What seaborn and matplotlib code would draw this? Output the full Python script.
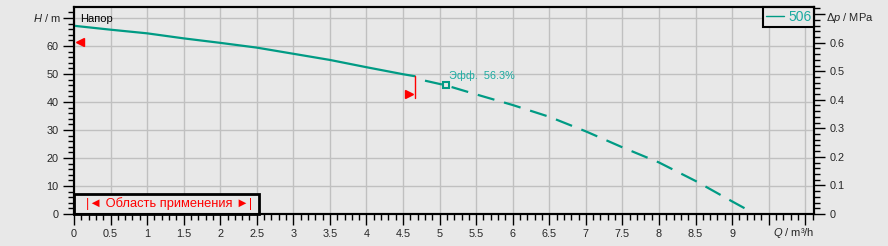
import matplotlib
matplotlib.use("Agg")
import matplotlib.pyplot as plt
import seaborn as sns
import pandas as pd
import numpy as np
from matplotlib.ticker import MultipleLocator, FuncFormatter
from matplotlib.lines import Line2D
from matplotlib.patches import Rectangle

# ---- data ----
q_solid = [0, 0.5, 1.0, 1.5, 2.0, 2.5, 3.0, 3.5, 4.0, 4.5, 4.66]
h_solid = [67.2, 65.8, 64.5, 62.7, 61.1, 59.4, 57.2, 55.0, 52.4, 49.9, 49.2]
q_dash = [4.80, 5.09, 5.5, 6.0, 6.5, 7.0, 7.5, 8.0, 8.5, 9.0, 9.21]
h_dash = [47.6, 45.9, 42.7, 38.9, 34.7, 29.5, 23.8, 18.4, 11.8, 4.5, 1.5]
series_label = "506"
eff_q, eff_h, eff_text = 5.09, 45.9, "Эфф.  56.3%"
op_q, op_h_top, op_h_bot = 4.66, 49.2, 41.4
left_mark_q, left_mark_h = 0.08, 61.4
right_mark_q, right_mark_h = 4.58, 42.7
x_ticks = [0, 0.5, 1, 1.5, 2, 2.5, 3, 3.5, 4, 4.5, 5, 5.5, 6, 6.5, 7, 7.5, 8, 8.5, 9, 9.5, 10]
x_tick_labels = ["0", "0.5", "1", "1.5", "2", "2.5", "3", "3.5", "4", "4.5", "5", "5.5",
                 "6", "6.5", "7", "7.5", "8", "8.5", "9", "", ""]
y_ticks = [0, 10, 20, 30, 40, 50, 60, 70]
y_tick_labels = ["0", "10", "20", "30", "40", "50", "60", ""]
p_ticks = [0, 0.1, 0.2, 0.3, 0.4, 0.5, 0.6, 0.7]
p_tick_labels = ["0", "0.1", "0.2", "0.3", "0.4", "0.5", "0.6", ""]
XMAX, YMAX = 10.12, 73.9
MPA_PER_M = 0.00981

TEAL = "#009b84"
TEAL_TXT = "#1aaaa0"
RED = "#ff0000"
BG = "#e8e8e8"

sns.set_style("ticks")
plt.rcParams["font.family"] = ["Liberation Sans", "DejaVu Sans"]
plt.rcParams["mathtext.fontset"] = "custom"
plt.rcParams["mathtext.it"] = "Liberation Sans:italic"
plt.rcParams["mathtext.rm"] = "Liberation Sans"

W, H = 888, 246
fig = plt.figure(figsize=(W / 100, H / 100), dpi=100, facecolor=BG)
L, R, T, B = 74, 814, 7, 214
ax = fig.add_axes([L / W, (H - B) / H, (R - L) / W, (B - T) / H])
ax.set_facecolor(BG)

df_s = pd.DataFrame({"Q": q_solid, "H": h_solid})
df_d = pd.DataFrame({"Q": q_dash, "H": h_dash})
sns.lineplot(data=df_s, x="Q", y="H", ax=ax, color=TEAL, lw=1.6, zorder=4)
sns.lineplot(data=df_d, x="Q", y="H", ax=ax, color=TEAL, lw=1.6, zorder=4)
ax.lines[-1].set_dashes((7.8, 4.5))

ax.set_xlim(0, XMAX)
ax.set_ylim(0, YMAX)
ax.set_xlabel("")
ax.set_ylabel("")

ax.set_xticks(x_ticks)
ax.set_xticklabels(x_tick_labels)
ax.set_yticks(y_ticks)
ax.set_yticklabels(y_tick_labels)
ax.xaxis.set_minor_locator(MultipleLocator(0.1))
ax.yaxis.set_minor_locator(MultipleLocator(2))
ax.grid(True, which="major", color="#c0c0c0", lw=1.0, zorder=0)
ax.set_axisbelow(True)
ax.tick_params(which="major", direction="out", length=8, width=1, color="black",
               labelsize=7.8, pad=3)
ax.tick_params(which="minor", direction="out", length=4.5, width=1, color="black")
for s in ax.spines.values():
    s.set_color("black")
    s.set_linewidth(1.5)
    s.set_visible(True)

ax2 = ax.twinx()
ax2.set_ylim(0, YMAX * MPA_PER_M)
ax2.set_yticks(p_ticks)
ax2.set_yticklabels(p_tick_labels)
ax2.yaxis.set_minor_locator(MultipleLocator(0.02))
ax2.tick_params(which="major", direction="out", length=8, width=1, color="black",
                labelsize=7.8, pad=3)
ax2.tick_params(which="minor", direction="out", length=4.5, width=1, color="black")
for s in ax2.spines.values():
    s.set_color("black")
    s.set_linewidth(1.5)

# operating point marks
ax.plot([op_q, op_q], [op_h_top, op_h_bot], color=RED, lw=1.0, zorder=5)
ax.plot([right_mark_q], [right_mark_h], marker=">", color=RED, ms=6, ls="none", zorder=5)
ax.plot([left_mark_q], [left_mark_h], marker="<", color=RED, ms=6, ls="none", zorder=5)
ax.plot([eff_q], [eff_h], marker="s", mfc=BG, mec=TEAL, mew=1.5, ms=4.5, ls="none", zorder=6)
ax.text(eff_q + 0.04, eff_h + 1.5, eff_text, color=TEAL_TXT, fontsize=7.8, va="bottom", ha="left", zorder=6)

ax.text(6 / (R - L), (B - 19) / (B - T), "Напор", transform=ax.transAxes,
        fontsize=8, va="center", ha="left", color="black")

# legend
leg = ax.legend(handles=[Line2D([], [], color=TEAL, lw=1.0)], labels=[series_label],
                loc="upper right", bbox_to_anchor=(1.0, 1.0), borderaxespad=0,
                frameon=True, fancybox=False, edgecolor="black", facecolor=BG, framealpha=1,
                fontsize=10, handlelength=1.3, handletextpad=0.3, borderpad=0.2,
                labelcolor=TEAL_TXT)
leg.get_frame().set_linewidth(1.5)
leg.set_zorder(10)

# application range box
bw = (259 - L) / (R - L)
bh = (B - 194) / (B - T)
ax.add_patch(Rectangle((0, 0), bw, bh, transform=ax.transAxes, facecolor=BG,
                       edgecolor="black", lw=2, zorder=7, clip_on=False))
ax.text(bw / 2 + 0.004, bh / 2, "|◄ Область применения ►|", transform=ax.transAxes,
        color=RED, fontsize=9.3, ha="center", va="center", zorder=8)

# axis labels
fig.text(61 / W, 1 - 18 / H, "$H$ / m", ha="right", va="center", fontsize=8)
fig.text(826 / W, 1 - 18 / H, "Δ$p$ / MPa", ha="left", va="center", fontsize=8)
fig.text(773 / W, 1 - 233 / H, "$Q$ / m³/h", ha="left", va="center", fontsize=8)

fig.savefig("out.png", dpi=100, facecolor=BG)
